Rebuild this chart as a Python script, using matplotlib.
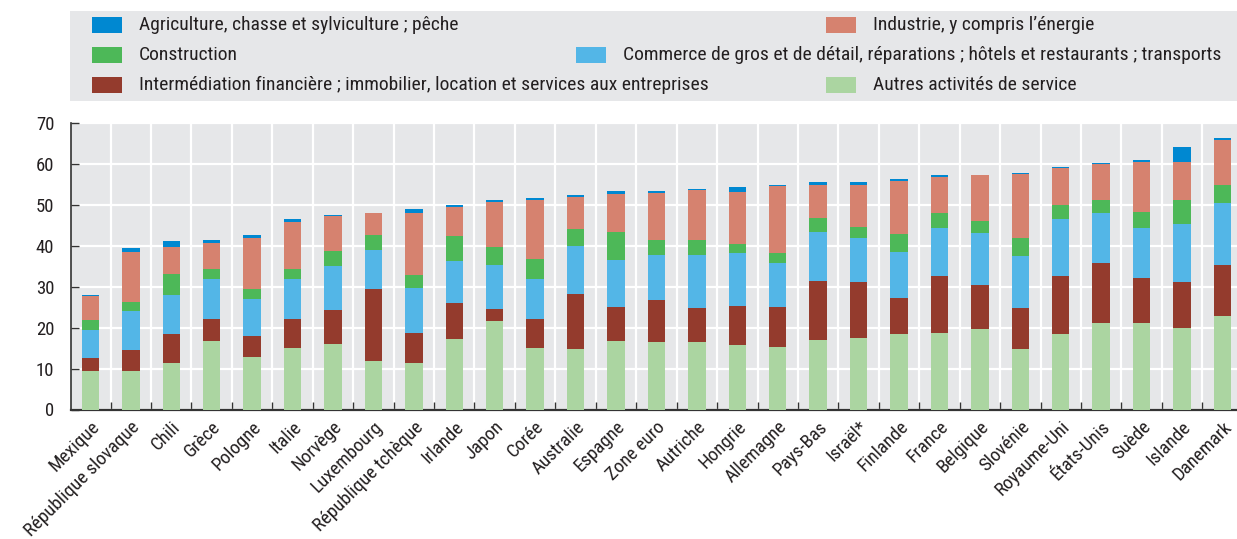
import matplotlib
matplotlib.use("Agg")
import matplotlib.pyplot as plt
from matplotlib.patches import Rectangle
import matplotlib.transforms as mtransforms
import numpy as np

plt.rcParams['font.family'] = ['Roboto Condensed', 'DejaVu Sans']

countries = ["Mexique", "République slovaque", "Chili", "Grèce", "Pologne", "Italie", "Norvège",
             "Luxembourg", "République tchèque", "Irlande", "Japon", "Corée", "Australie", "Espagne",
             "Zone euro", "Autriche", "Hongrie", "Allemagne", "Pays-Bas", "Israël*", "Finlande",
             "France", "Belgique", "Slovénie", "Royaume-Uni", "États-Unis", "Suède", "Islande", "Danemark"]

autres = [9.4, 9.4, 11.3, 16.7, 12.8, 15.0, 16.0, 11.8, 11.3, 17.2, 21.6, 15.0, 14.8, 16.7,
          16.5, 16.5, 15.7, 15.3, 17.0, 17.5, 18.4, 18.7, 19.7, 14.8, 18.4, 21.1, 21.1, 19.9, 22.8]
intermediation = [3.2, 5.1, 7.1, 5.4, 5.1, 7.1, 8.3, 17.6, 7.4, 8.8, 3.0, 7.1, 13.4, 8.3,
                  10.3, 8.3, 9.6, 9.7, 14.4, 13.7, 8.8, 13.9, 10.7, 10.0, 14.2, 14.7, 11.0, 11.3, 12.5]
commerce = [6.8, 9.6, 9.6, 9.8, 9.1, 9.8, 10.8, 9.6, 11.0, 10.3, 10.7, 9.8, 11.8, 11.5,
            11.0, 13.0, 13.0, 10.8, 12.0, 10.7, 11.3, 11.8, 12.7, 12.7, 14.0, 12.2, 12.3, 14.2, 15.2]
construction = [2.5, 2.2, 5.1, 2.4, 2.4, 2.4, 3.6, 3.7, 3.2, 6.1, 4.4, 4.9, 4.1, 6.9,
                3.6, 3.6, 2.2, 2.5, 3.4, 2.7, 4.4, 3.6, 3.0, 4.4, 3.4, 3.2, 3.9, 5.8, 4.4]
industrie = [5.9, 12.2, 6.6, 6.4, 12.5, 11.5, 8.6, 5.3, 15.1, 7.1, 11.0, 14.4, 7.9, 9.3,
             11.5, 12.3, 12.7, 16.3, 8.1, 10.3, 13.0, 8.9, 11.2, 15.7, 9.1, 8.8, 12.2, 9.3, 11.0]
agriculture = [0.2, 1.0, 1.5, 0.7, 0.8, 0.8, 0.3, 0.0, 1.0, 0.5, 0.5, 0.5, 0.4, 0.7,
               0.5, 0.2, 1.2, 0.3, 0.7, 0.7, 0.5, 0.4, 0.0, 0.2, 0.2, 0.3, 0.5, 3.7, 0.5]

series = [
    ("Autres activités de service", autres, "#ABD5A1"),
    ("Intermédiation financière ; immobilier, location et services aux entreprises", intermediation, "#943B2D"),
    ("Commerce de gros et de détail, réparations ; hôtels et restaurants ; transports", commerce, "#53B6E7"),
    ("Construction", construction, "#4DB858"),
    ("Industrie, y compris l’énergie", industrie, "#D6826F"),
    ("Agriculture, chasse et sylviculture ; pêche", agriculture, "#0088D1"),
]
colors = {name: c for name, _, c in series}

W, H = 1237, 539
fig = plt.figure(figsize=(W / 100, H / 100), dpi=100)
bg = "#E6E7E9"
txt = "#231F20"

ax_l, ax_r, ax_t, ax_b = 71, 1237, 123, 409.5
ax = fig.add_axes([ax_l / W, 1 - ax_b / H, (ax_r - ax_l) / W, (ax_b - ax_t) / H])
ax.set_facecolor(bg)

x = np.arange(len(countries))
bottom = np.zeros(len(countries))
for name, vals, c in series:
    v = np.array(vals)
    ax.bar(x, v, width=0.43, bottom=bottom, color=c, zorder=3, linewidth=0)
    bottom += v

ax.set_ylim(0, 70)
ax.set_xlim(-0.48, 28.36)
ax.set_yticks(np.arange(0, 71, 10))
ax.set_xticks(x)
ax.set_xticks(np.arange(0.5, len(countries) - 0.5, 1), minor=True)
ax.set_xticklabels(countries, rotation=45, ha="right", va="top", rotation_mode="anchor",
                   fontsize=13.6, color=txt)
offset = mtransforms.ScaledTranslation(-4 / 100, 0, fig.dpi_scale_trans)
for lab in ax.get_xticklabels():
    lab.set_transform(lab.get_transform() + offset)
ax.tick_params(axis="x", which="major", length=0, pad=6)
ax.tick_params(axis="x", which="minor", direction="in", length=6, width=1, color="#333333")
ax.tick_params(axis="y", direction="in", length=6, width=1, color="#333333", labelsize=13.5,
               labelcolor=txt, pad=12)
ax.grid(axis="y", color="white", linewidth=1.6, zorder=1)
ax.grid(axis="x", which="minor", color="white", linewidth=1.6, zorder=1)
for s in ["top", "right"]:
    ax.spines[s].set_visible(False)
ax.spines["left"].set_color("#333333")
ax.spines["bottom"].set_color("#333333")
ax.spines["left"].set_linewidth(1.2)
ax.spines["bottom"].set_linewidth(1.6)

# Legend box
fig.patches.append(Rectangle((70 / W, 1 - 101 / H), (1237 - 70) / W, 90 / H,
                             transform=fig.transFigure, facecolor=bg, edgecolor="none", zorder=0))

legend_items = [
    ("Agriculture, chasse et sylviculture ; pêche", 92, 25),
    ("Industrie, y compris l’énergie", 826, 25),
    ("Construction", 92, 55),
    ("Commerce de gros et de détail, réparations ; hôtels et restaurants ; transports", 576, 55),
    ("Intermédiation financière ; immobilier, location et services aux entreprises", 92, 85),
    ("Autres activités de service", 826, 85),
]
for name, px, py in legend_items:
    fig.patches.append(Rectangle((px / W, 1 - (py + 8) / H), 30 / W, 16 / H,
                                 transform=fig.transFigure, facecolor=colors[name],
                                 edgecolor="none", zorder=1))
    fig.text((px + 47) / W, 1 - py / H, name, fontsize=14, color=txt, va="center", ha="left")

fig.savefig("out.png", dpi=100)
